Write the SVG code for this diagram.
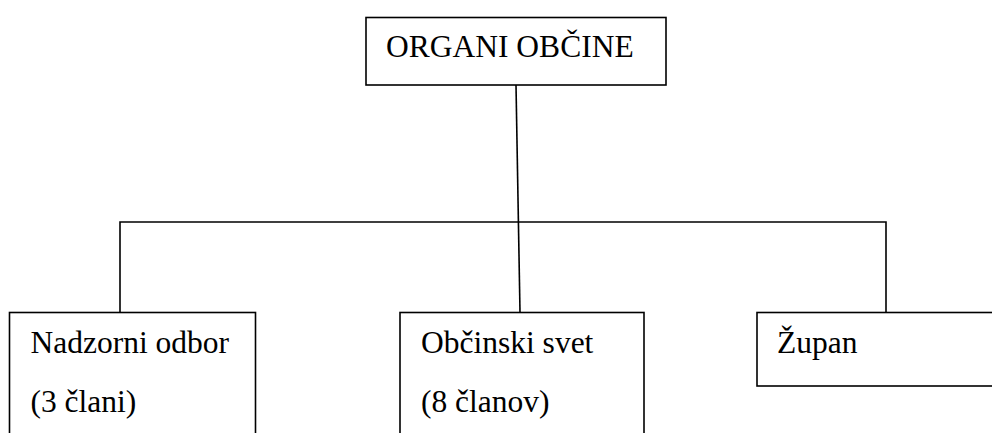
<svg xmlns="http://www.w3.org/2000/svg" width="992" height="433" viewBox="0 0 992 433">
<style>
.box{fill:#fff;stroke:#000;stroke-width:1.6}
.ln{fill:none;stroke:#000;stroke-width:1.6}
.t{font-family:'Liberation Serif','Times New Roman','DejaVu Serif',serif;font-size:31.5px;fill:#000}
</style>
<rect width="992" height="433" fill="#fff"/>
<g id="connectors">
<line class="ln" x1="516" y1="85" x2="520" y2="312"/>
<polyline class="ln" points="120,312 120,222 886,222 886,312"/>
</g>
<g id="organi">
<rect class="box" x="366" y="17.5" width="300" height="67.5"/>
<text class="t" x="386" y="57" font-family="Liberation Serif, serif">ORGANI OBČINE</text>
</g>
<g id="nadzorni">
<rect class="box" x="9.5" y="312.5" width="246" height="140"/>
<text class="t" x="30.5" y="352.5">Nadzorni odbor</text>
<text class="t" x="30.5" y="412">(3 člani)</text>
</g>
<g id="svet">
<rect class="box" x="400" y="312.5" width="244" height="140"/>
<text class="t" x="421" y="352.5">Občinski svet</text>
<text class="t" x="421" y="412">(8 članov)</text>
</g>
<g id="zupan">
<rect class="box" x="757" y="312.5" width="245" height="73.5"/>
<text class="t" x="777" y="352.5">Župan</text>
</g>
</svg>
